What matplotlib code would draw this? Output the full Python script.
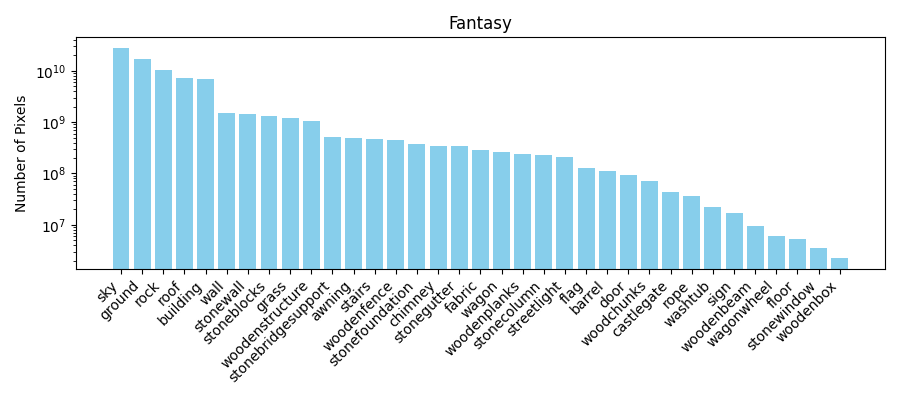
import matplotlib
matplotlib.use("Agg")
import matplotlib.pyplot as plt

categories = ["sky", "ground", "rock", "roof", "building", "wall", "stonewall",
              "stoneblocks", "grass", "woodenstructure", "stonebridgesupport",
              "awning", "stairs", "woodenfence", "stonefoundation", "chimney",
              "stonegutter", "fabric", "wagon", "woodenplanks", "stonecolumn",
              "streetlight", "flag", "barrel", "door", "woodchunks", "castlegate",
              "rope", "washtub", "sign", "woodenbeam", "wagonwheel", "floor",
              "stonewindow", "woodenbox"]
pixels = [2.8e10, 1.67e10, 1.06e10, 7.1e9, 6.8e9, 1.52e9, 1.46e9,
          1.33e9, 1.22e9, 1.06e9, 5.16e8,
          4.93e8, 4.72e8, 4.51e8, 3.77e8, 3.44e8,
          3.44e8, 2.88e8, 2.61e8, 2.39e8, 2.28e8,
          2.09e8, 1.27e8, 1.11e8, 9.3e7, 7.08e7, 4.3e7,
          3.6e7, 2.22e7, 1.69e7, 9.4e6, 6.0e6, 5.25e6,
          3.5e6, 2.22e6]

fig, ax = plt.subplots(figsize=(9, 4), dpi=100)
ax.bar(categories, pixels, color="skyblue")
ax.set_yscale("log")
ax.set_title("Fantasy")
ax.set_ylabel("Number of Pixels")
plt.setp(ax.get_xticklabels(), rotation=45, ha="right")
fig.tight_layout()
fig.savefig("out.png")
